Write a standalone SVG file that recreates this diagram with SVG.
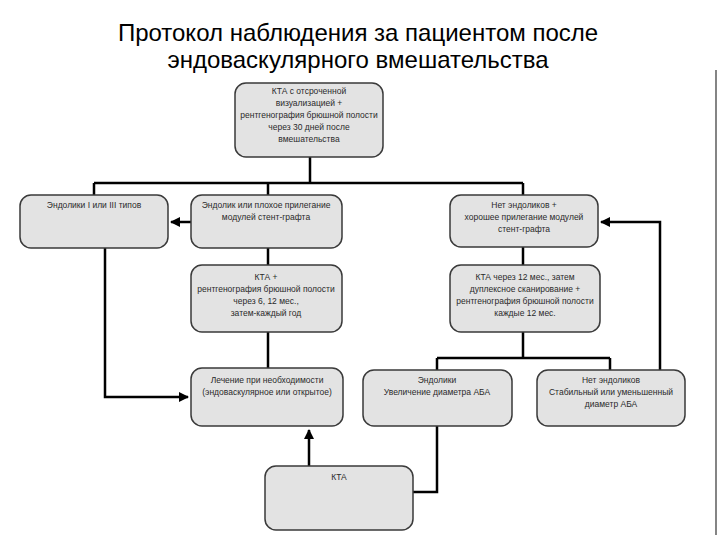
<svg xmlns="http://www.w3.org/2000/svg" width="720" height="540" viewBox="0 0 720 540">
<defs>
<marker id="ah" viewBox="0 0 10 10" refX="9" refY="5" markerWidth="4" markerHeight="4" orient="auto" markerUnits="strokeWidth">
<path d="M0,0 L10,5 L0,10 z" fill="#000"/>
</marker>
<style>
.box{fill:#e3e3e3;stroke:#3a3a3a;stroke-width:1.5}
.t{font-family:"Liberation Sans",Arial,sans-serif;font-size:8.5px;fill:#2a2a2a;text-anchor:middle}
.title{font-family:"Liberation Sans",Arial,sans-serif;font-size:24px;fill:#000;text-anchor:middle}
.c{fill:none;stroke:#000;stroke-width:2.5}
</style>
</defs>
<rect width="720" height="540" fill="#fff"/>
<text class="title" x="358" y="41">Протокол наблюдения за пациентом после</text>
<text class="title" x="358" y="68">эндоваскулярного вмешательства</text>
<line x1="716" y1="70" x2="716" y2="535" stroke="#333" stroke-width="1.2"/>
<g id="connectors">
<path class="c" d="M310,157 V183 M94,183 H523 M94,183 V195 M268,183 V195 M523,183 V195"/>
<path class="c" d="M191,222 H171" marker-end="url(#ah)"/>
<path class="c" d="M268,248 V265"/>
<path class="c" d="M268,332 V368"/>
<path class="c" d="M105,248 V397 H188" marker-end="url(#ah)"/>
<path class="c" d="M523,247 V265"/>
<path class="c" d="M523,332 V358 M437,358 H610 M437,358 V370 M610,358 V370"/>
<path class="c" d="M660,370 V222 H601" marker-end="url(#ah)"/>
<path class="c" d="M309,466 V430" marker-end="url(#ah)"/>
<path class="c" d="M413,492 H437 V426"/>
</g>
<g id="n1"><rect class="box" x="235" y="83" width="148" height="74" rx="11"/>
<text class="t" x="309" y="94">КТА с отсроченной</text>
<text class="t" x="309" y="106">визуализацией +</text>
<text class="t" x="309" y="118">рентгенография брюшной полости</text>
<text class="t" x="309" y="130">через 30 дней после</text>
<text class="t" x="309" y="142">вмешательства</text></g>
<g id="n2"><rect class="box" x="20" y="195" width="148" height="53" rx="11"/>
<text class="t" x="94" y="208">Эндолики I или III типов</text></g>
<g id="n3"><rect class="box" x="191" y="195" width="151" height="53" rx="11"/>
<text class="t" x="266" y="208">Эндолик или плохое прилегание</text>
<text class="t" x="266" y="220">модулей стент-графта</text></g>
<g id="n4"><rect class="box" x="450" y="195" width="148" height="52" rx="11"/>
<text class="t" x="524" y="208">Нет эндоликов +</text>
<text class="t" x="524" y="220">хорошее прилегание модулей</text>
<text class="t" x="524" y="232">стент-графта</text></g>
<g id="n5"><rect class="box" x="191" y="265" width="151" height="67" rx="11"/>
<text class="t" x="266" y="280">КТА +</text>
<text class="t" x="266" y="292">рентгенография брюшной полости</text>
<text class="t" x="266" y="304">через 6, 12 мес.,</text>
<text class="t" x="266" y="316">затем-каждый год</text></g>
<g id="n6"><rect class="box" x="450" y="265" width="150" height="67" rx="11"/>
<text class="t" x="525" y="280">КТА через 12 мес., затем</text>
<text class="t" x="525" y="292">дуплексное сканирование +</text>
<text class="t" x="525" y="304">рентгенография брюшной полости</text>
<text class="t" x="525" y="316">каждые 12 мес.</text></g>
<g id="n7"><rect class="box" x="191" y="368" width="152" height="58" rx="11"/>
<text class="t" x="267" y="383">Лечение при необходимости</text>
<text class="t" x="267" y="395">(эндоваскулярное или открытое)</text></g>
<g id="n8"><rect class="box" x="363" y="370" width="149" height="56" rx="11"/>
<text class="t" x="437" y="383">Эндолики</text>
<text class="t" x="437" y="395">Увеличение диаметра АБА</text></g>
<g id="n9"><rect class="box" x="537" y="370" width="148" height="56" rx="11"/>
<text class="t" x="611" y="383">Нет эндоликов</text>
<text class="t" x="611" y="395">Стабильный или уменьшенный</text>
<text class="t" x="611" y="407">диаметр АБА</text></g>
<g id="n10"><rect class="box" x="265" y="466" width="148" height="64" rx="11"/>
<text class="t" x="339" y="480">КТА</text></g>
</svg>
